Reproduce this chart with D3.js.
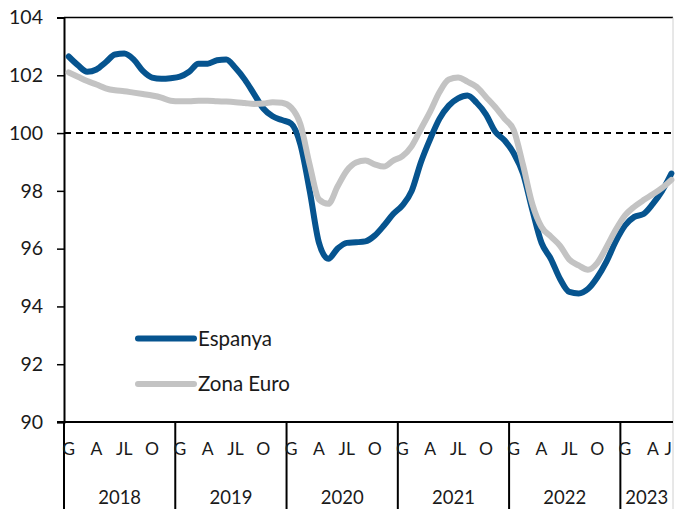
<!DOCTYPE html>
<html>
<head>
<meta charset="utf-8">
<script src="https://cdn.jsdelivr.net/npm/d3@7"></script>
<style>
	body { margin: 0; background: #fff; }
	text { font-family: Lato, "Open Sans", sans-serif; fill: #1a1a1a; }
</style>
</head>
<body>
<div class="svg-div"></div>
<script>
// data: monthly, gener 2018 - juny 2023
var years = ["2018", "2019", "2020", "2021", "2022", "2023"];
var monthNames = ["G", "F", "M", "A", "MG", "J", "JL", "AG", "S", "O", "N", "D"];
var shownMonths = ["G", "A", "JL", "O"];
var nMonths = 66;

var espanya = [
	102.65, 102.35, 102.12, 102.2, 102.45, 102.72, 102.75, 102.55, 102.15, 101.92, 101.88, 101.9,
	101.95, 102.12, 102.4, 102.4, 102.52, 102.55, 102.25, 101.85, 101.35, 100.85, 100.58, 100.45,
	100.33, 99.6, 98.0, 96.2, 95.65, 96.0, 96.2, 96.22, 96.25, 96.45, 96.8, 97.2,
	97.5, 98.0, 99.0, 99.8, 100.5, 100.95, 101.2, 101.3, 101.05, 100.65, 100.05, 99.75,
	99.3, 98.6, 97.35, 96.2, 95.65, 94.95, 94.5, 94.45, 94.6, 95.0, 95.55, 96.25,
	96.8, 97.1, 97.2, 97.55, 98.0, 98.6
];

var zonaEuro = [
	102.1, 101.95, 101.8, 101.68, 101.55, 101.48, 101.45, 101.4, 101.35, 101.3, 101.23, 101.12,
	101.1, 101.1, 101.12, 101.12, 101.1, 101.09, 101.07, 101.04, 101.01, 101.02, 101.07, 101.05,
	100.88, 100.3, 98.9, 97.7, 97.55, 98.15, 98.7, 98.98, 99.05, 98.92, 98.84, 99.05,
	99.2, 99.55, 100.15, 100.75, 101.42, 101.85, 101.92, 101.78, 101.6, 101.25, 100.9, 100.5,
	100.1, 98.9, 97.55, 96.75, 96.42, 96.1, 95.62, 95.42, 95.27, 95.5, 96.05, 96.65,
	97.15, 97.45, 97.68, 97.88, 98.1, 98.38
];

var yTicks = [90, 92, 94, 96, 98, 100, 102, 104];
var seriesNames = ["Espanya", "Zona Euro"];
var seriesColors = ["#06548f", "#c3c3c3"];

// initialize properties
var w = 675;
var h = 509;
var mLeft = 64;
var mRight = 676;
var mTop = 17.5;
var mBottom = 422;
var edge = 673;

var svg = d3.select(".svg-div")
	.append("svg")
	.attr("width", w)
	.attr("height", h);

var x = d3.scaleBand()
	.domain(d3.range(nMonths))
	.range([mLeft, mRight]);

var y = d3.scaleLinear()
	.domain([90, 104])
	.range([mBottom, mTop]);

// top border and right border
svg.append("line")
	.attr("x1", mLeft).attr("x2", edge)
	.attr("y1", mTop).attr("y2", mTop)
	.attr("stroke", "#000").attr("stroke-width", 1.3);
svg.append("line")
	.attr("x1", edge).attr("x2", edge)
	.attr("y1", mTop).attr("y2", h)
	.attr("stroke", "#d0d0d0").attr("stroke-width", 1);

// y axis
var yAxis = svg.append("g")
	.attr("transform", "translate(" + mLeft + ",0)")
	.call(d3.axisLeft(y).tickValues(yTicks).tickSize(7).tickPadding(14));
yAxis.select(".domain").attr("stroke", "#000").attr("stroke-width", 2);
yAxis.selectAll(".tick line").attr("stroke", "#000").attr("stroke-width", 1.5);
yAxis.selectAll(".tick text")
	.style("font-family", "Lato, sans-serif")
	.style("font-size", "19.5px")
	.attr("fill", "#1a1a1a");
// extend y axis line down through the labels
svg.append("line")
	.attr("x1", mLeft).attr("x2", mLeft)
	.attr("y1", mBottom).attr("y2", h)
	.attr("stroke", "#000").attr("stroke-width", 2);

// reference line at 100
svg.append("line")
	.attr("x1", mLeft).attr("x2", edge)
	.attr("y1", y(100)).attr("y2", y(100))
	.attr("stroke", "#000")
	.attr("stroke-width", 2)
	.attr("stroke-dasharray", "7,5");

// x axis baseline
svg.append("line")
	.attr("x1", mLeft - 7).attr("x2", edge)
	.attr("y1", mBottom).attr("y2", mBottom)
	.attr("stroke", "#000").attr("stroke-width", 2);

// year separators
svg.selectAll(".sep")
	.data(years.slice(1))
	.enter()
	.append("line")
	.attr("class", "sep")
	.attr("x1", function(d, i) { return x((i + 1) * 12); })
	.attr("x2", function(d, i) { return x((i + 1) * 12); })
	.attr("y1", mBottom)
	.attr("y2", h)
	.attr("stroke", "#000")
	.attr("stroke-width", 2);

// month labels (every quarter, plus the last month)
var monthTicks = d3.range(nMonths).filter(function(i) {
	return shownMonths.indexOf(monthNames[i % 12]) >= 0 || i == nMonths - 1;
});
svg.selectAll(".mlabel")
	.data(monthTicks)
	.enter()
	.append("text")
	.attr("class", "mlabel")
	.attr("x", function(i) {
		// last label is kept inside the right border
		if (i == nMonths - 1) return edge - 1;
		return x(i) + x.bandwidth() / 2;
	})
	.attr("y", 455)
	.attr("text-anchor", function(i) { return i == nMonths - 1 ? "end" : "middle"; })
	.style("font-size", "17.5px")
	.text(function(i) { return monthNames[i % 12]; });

// year labels
svg.selectAll(".ylabel")
	.data(years)
	.enter()
	.append("text")
	.attr("class", "ylabel")
	.attr("x", function(d, i) {
		var a = x(i * 12);
		var b = Math.min(x(Math.min(i * 12 + 12, nMonths) - 1) + x.bandwidth(), edge);
		return (a + b) / 2;
	})
	.attr("y", 504)
	.attr("text-anchor", "middle")
	.style("font-size", "18.5px")
	.text(function(d) { return d; });

// lines
var line = d3.line()
	.x(function(d, i) { return x(i) + x.bandwidth() / 2; })
	.y(function(d) { return y(d); })
	.curve(d3.curveMonotoneX);

var allSeries = [espanya, zonaEuro];
svg.selectAll(".series")
	.data(allSeries)
	.enter()
	.append("path")
	.attr("class", "series")
	.attr("d", line)
	.attr("fill", "none")
	.attr("stroke", function(d, i) { return seriesColors[i]; })
	.attr("stroke-width", 6)
	.attr("stroke-linejoin", "round")
	.attr("stroke-linecap", "round");

// legend
var legend = svg.selectAll(".legend")
	.data(seriesNames)
	.enter()
	.append("g")
	.attr("class", "legend")
	.attr("transform", function(d, i) { return "translate(138," + (338.5 + i * 45.5) + ")"; });
legend.append("line")
	.attr("x1", 0).attr("x2", 56)
	.attr("y1", 0).attr("y2", 0)
	.attr("stroke", function(d, i) { return seriesColors[i]; })
	.attr("stroke-width", 6)
	.attr("stroke-linecap", "round");
legend.append("text")
	.attr("x", 60)
	.attr("dy", "0.35em")
	.style("font-size", "20.5px")
	.text(function(d) { return d; });
</script>
</body>
</html>
